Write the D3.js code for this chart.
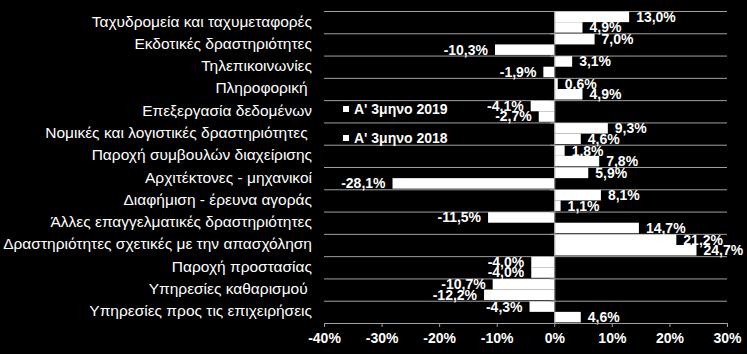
<!DOCTYPE html>
<html lang="el">
<head>
<meta charset="UTF-8">
<title>Μεταβολή απασχόλησης</title>
<style>
  body { margin: 0; background: #000; }
  svg { display: block; }
  text { font-family: "Liberation Sans", Arial, sans-serif; fill: #fff; }
  .cat { white-space: pre; }
</style>
</head>
<body>
<script src="https://d3js.org/d3.v7.min.js"></script>
<script>
const categories = [
  "Ταχυδρομεία και ταχυμεταφορές",
  "Εκδοτικές δραστηριότητες",
  "Τηλεπικοινωνίες",
  "Πληροφορική ",
  "Επεξεργασία δεδομένων",
  "Νομικές και λογιστικές δραστηριότητες ",
  "Παροχή συμβουλών διαχείρισης",
  "Αρχιτέκτονες - μηχανικοί",
  "Διαφήμιση - έρευνα αγοράς",
  "Άλλες επαγγελματικές δραστηριότητες",
  "Δραστηριότητες σχετικές με την απασχόληση",
  "Παροχή προστασίας",
  "Υπηρεσίες καθαρισμού ",
  "Υπηρεσίες προς τις επιχειρήσεις"
];
const seriesNames = ["Α' 3μηνο 2019", "Α' 3μηνο 2018"];
const q1_2019 = [13.0, 7.0, 3.1, 0.6, -4.1, 9.3, 1.8, 5.9, 8.1, -11.5, 21.2, -4.0, -10.7, -4.3];
const q1_2018 = [4.9, -10.3, -1.9, 4.9, -2.7, 4.6, 7.8, -28.1, 1.1, 14.7, 24.7, -4.0, -12.2, 4.6];
const xTicks = [-40, -30, -20, -10, 0, 10, 20, 30];

const width = 747, height = 354;
const plotLeft = 324, plotRight = 727, plotTop = 11, plotBottom = 323;

const svg = d3.select("body").append("svg")
  .attr("width", width).attr("height", height);

const x = d3.scaleLinear().domain([-40, 30]).range([plotLeft, plotRight]);
const y = d3.scaleBand().domain(categories).range([plotTop, plotBottom]);
const sub = d3.scaleBand().domain(seriesNames).range([0, y.bandwidth()]).paddingOuter(0.06);

const rows = categories.map((c, i) => ({ cat: c, values: [
  { s: seriesNames[0], v: q1_2019[i] },
  { s: seriesNames[1], v: q1_2018[i] }
]}));

// gridlines at band edges
const edges = categories.map(c => y(c));
svg.append("g").selectAll("line").data(edges).join("line")
  .attr("x1", plotLeft).attr("x2", plotRight)
  .attr("y1", d => d + 0.5).attr("y2", d => d + 0.5)
  .attr("stroke", "#a0a0a0").attr("stroke-width", 1);

// bars
const fmt = v => v.toFixed(1).replace(".", ",") + "%";
const g = svg.append("g").selectAll("g").data(rows).join("g")
  .attr("transform", d => `translate(0,${y(d.cat)})`);

g.selectAll("rect").data(d => d.values).join("rect")
  .attr("x", d => x(Math.min(0, d.v)))
  .attr("width", d => Math.abs(x(d.v) - x(0)))
  .attr("y", d => sub(d.s))
  .attr("height", sub.bandwidth())
  .attr("fill", "#fff");

g.selectAll("text").data(d => d.values).join("text")
  .attr("x", d => d.v >= 0 ? x(d.v) + 7 : x(d.v) - 7)
  .attr("y", d => sub(d.s) + sub.bandwidth() / 2)
  .attr("dy", "0.35em")
  .attr("text-anchor", d => d.v >= 0 ? "start" : "end")
  .attr("font-size", 14).attr("font-weight", "bold")
  .text(d => fmt(d.v));

// zero axis with ticks to the left
const zero = svg.append("g");
zero.append("line")
  .attr("x1", x(0) + 0.5).attr("x2", x(0) + 0.5)
  .attr("y1", plotTop).attr("y2", plotBottom)
  .attr("stroke", "#a0a0a0");
zero.selectAll(".zt").data(edges.concat([plotBottom])).join("line")
  .attr("x1", x(0) - 4).attr("x2", x(0))
  .attr("y1", d => d + 0.5).attr("y2", d => d + 0.5)
  .attr("stroke", "#a0a0a0");

// category labels
svg.append("g").selectAll("text").data(categories).join("text")
  .attr("class", "cat")
  .attr("x", 312)
  .attr("y", d => y(d) + y.bandwidth() / 2 - 1)
  .attr("dy", "0.35em")
  .attr("text-anchor", "end")
  .attr("font-size", 15.5)
  .text(d => d);

// x axis
const xAxis = d3.axisBottom(x).tickValues(xTicks).tickSize(4).tickPadding(6)
  .tickFormat(d => d + "%");
const ax = svg.append("g").attr("transform", `translate(0,${plotBottom})`).call(xAxis);
ax.select(".domain").attr("stroke", "#a0a0a0");
ax.selectAll(".tick line").attr("stroke", "#a0a0a0");
ax.selectAll(".tick text").attr("fill", "#fff")
  .attr("font-size", 14).attr("font-weight", "bold")
  .attr("font-family", "'Liberation Sans', Arial, sans-serif");

// legend
const leg = svg.append("g").selectAll("g").data(seriesNames).join("g")
  .attr("transform", (d, i) => `translate(343,${109 + i * 29})`);
leg.append("rect").attr("x", 0).attr("y", -3).attr("width", 6).attr("height", 6).attr("fill", "#fff");
leg.append("text").attr("x", 11).attr("dy", "0.35em")
  .attr("font-size", 14).attr("font-weight", "bold").text(d => d);
</script>
</body>
</html>
